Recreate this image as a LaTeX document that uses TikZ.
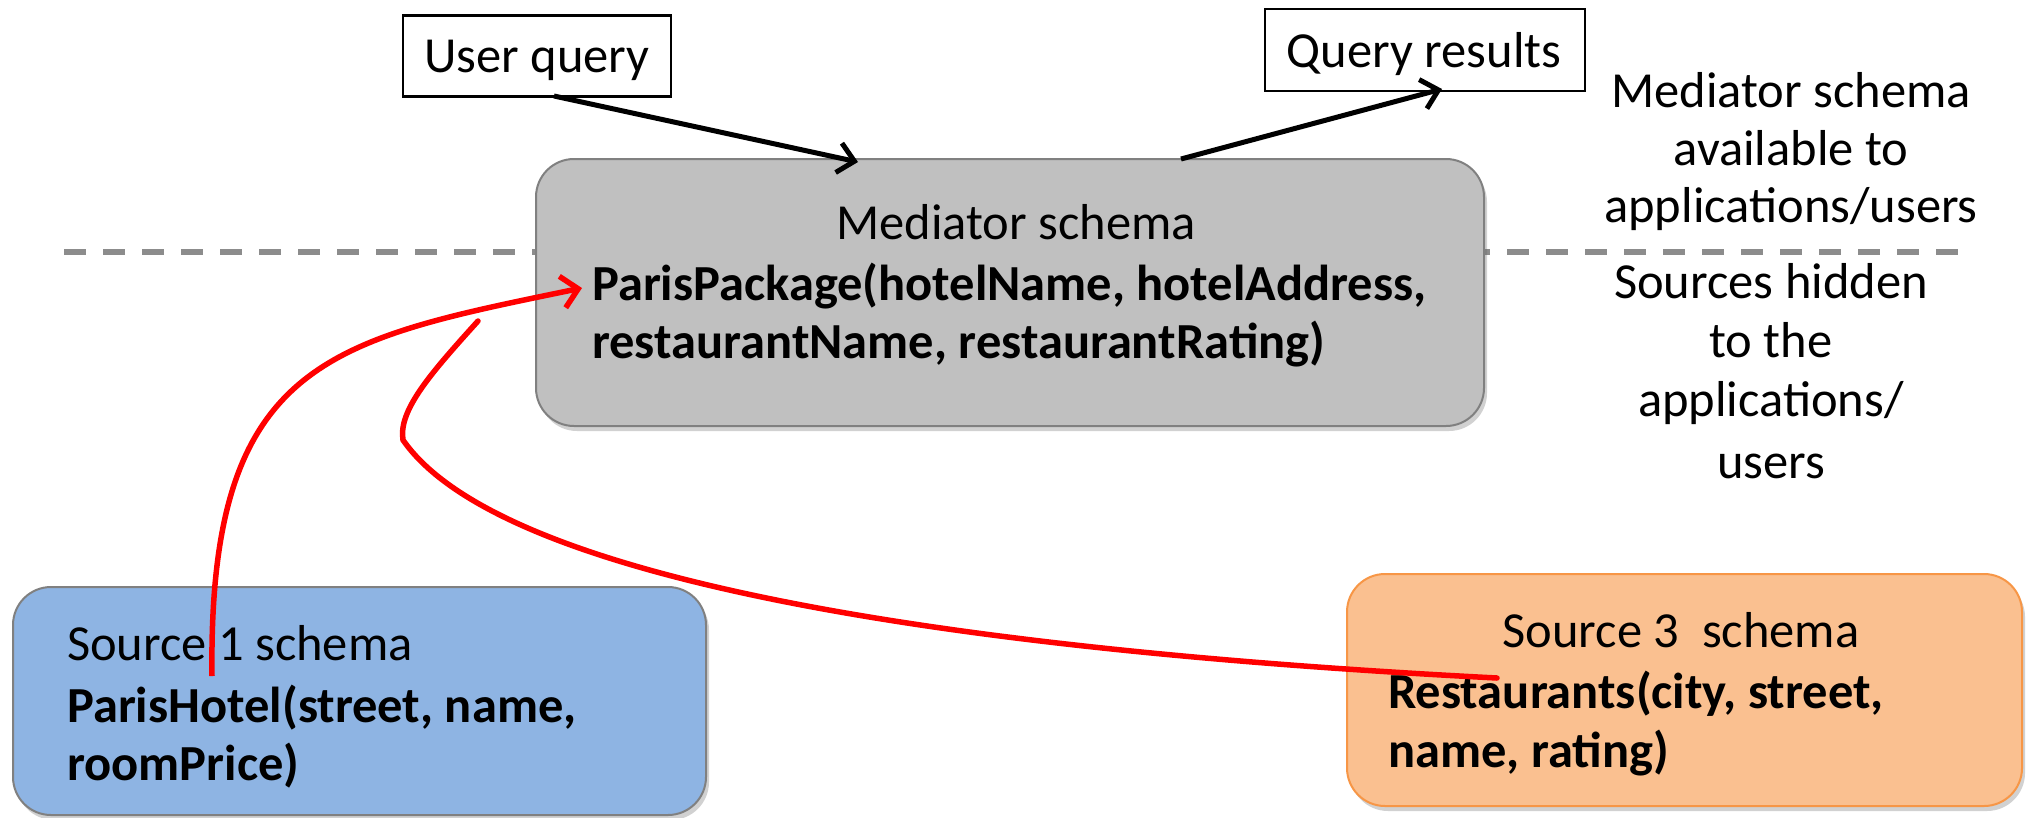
\documentclass[tikz,border=0pt]{standalone}
\usepackage{fontspec}
\setmainfont{Carlito}
\usetikzlibrary{arrows.meta,shadows}
\definecolor{medfill}{HTML}{C0C0C0}
\definecolor{medline}{HTML}{808080}
\definecolor{bluefill}{HTML}{8EB4E3}
\definecolor{orangefill}{HTML}{FAC090}
\definecolor{orangeline}{HTML}{F79646}
\definecolor{dashgray}{HTML}{8C8C8C}
\tikzset{
  schemabox/.style={draw=medline, line width=2pt, rounded corners=38pt, inner sep=0pt,
    drop shadow={shadow xshift=3pt, shadow yshift=-5pt, opacity=0.3, fill=black!60}},
  qbox/.style={draw=black, line width=2.5pt, fill=white, inner sep=0pt},
  txt/.style={inner sep=0pt, font=\fontsize{50.5}{60}\selectfont},
  btxt/.style={inner sep=0pt, font=\fontsize{50.5}{60}\selectfont\bfseries},
  sidetxt/.style={inner sep=0pt, align=center, font=\fontsize{50.5}{60}\selectfont},
  blackarrow/.style={line width=5pt, -{Straight Barb[length=16pt,width=30pt,line width=5pt]}},
  redline/.style={draw=red, line width=5.5pt},
  redarrow/.style={redline, -{Straight Barb[length=16pt,width=32pt,line width=5.5pt]}},
}
\begin{document}
\begin{tikzpicture}[x=1pt,y=-1pt]
\useasboundingbox (0,0) rectangle (2031,817);
% dashed separator
\coordinate (dl) at (64,252);
\coordinate (dr) at (1958,252);
\draw[dashgray, line width=6pt, dash pattern=on 22pt off 17pt] (dl) -- (dr);
% boxes
\node[schemabox, fill=medfill, minimum width=948pt, minimum height=267pt] (med) at (1010,292.5) {};
\node[schemabox, fill=bluefill, minimum width=693pt, minimum height=228pt] (s1) at (359.5,701) {};
\node[schemabox, fill=orangefill, draw=orangeline, minimum width=675pt, minimum height=232pt] (s3) at (1684.5,690) {};
\node[qbox, minimum width=268pt, minimum height=81pt] (uq) at (537,56) {};
\node[qbox, minimum width=320pt, minimum height=82pt] (qr) at (1425,50) {};
% texts
\node[txt, anchor=base] (uqt) at (537,72) {User query};
\node[txt, anchor=base] (qrt) at (1424,67) {Query results};
\node[txt, anchor=base] (medt) at (1016,239) {Mediator schema};
\node[btxt, anchor=base west] (medb1) at (592,300) {ParisPackage(hotelName, hotelAddress,};
\node[btxt, anchor=base west] (medb2) at (592,358) {restaurantName, restaurantRating)};
\node[txt, anchor=base west] (s1t) at (67,660) {Source 1 schema};
\node[btxt, anchor=base west] (s1b1) at (67,722) {ParisHotel(street, name,};
\node[btxt, anchor=base west] (s1b2) at (67,780) {roomPrice)};
\node[txt, anchor=base] (s3t) at (1681,647) {Source 3\ \ schema};
\node[btxt, anchor=base west] (s3b1) at (1388,708) {Restaurants(city, street,};
\node[btxt, anchor=base west] (s3b2) at (1388,767) {name, rating)};
\node[sidetxt, anchor=base] (side1) at (1791,107) {Mediator schema};
\node[sidetxt, anchor=base] (side2) at (1791,165) {available to};
\node[sidetxt, anchor=base] (side3) at (1791,222) {applications/users};
\node[sidetxt, anchor=base] (side4) at (1771,298) {Sources hidden};
\node[sidetxt, anchor=base] (side5) at (1771,357) {to the};
\node[sidetxt, anchor=base] (side6) at (1771,416) {applications/};
\node[sidetxt, anchor=base] (side7) at (1771,478) {users};
% black arrows
\coordinate (uqout) at (554,96);
\coordinate (medin) at (858,162);
\coordinate (medout) at (1181,159);
\coordinate (qrin) at (1442,89);
\draw[blackarrow] (uqout) -- (medin);
\draw[blackarrow] (medout) -- (qrin);
% red curves
\coordinate (h1) at (212,676);
\coordinate (tip) at (582,288);
\coordinate (join) at (478,321);
\coordinate (kink) at (403,440);
\coordinate (r3) at (1497,678);
\draw[redarrow] (h1) .. controls (208,360) and (330,340) .. (tip);
\draw[redline, line cap=round] (r3) .. controls (950,650) and (500,580) .. (kink)
  .. controls (398,410) and (432,372) .. (join);
\end{tikzpicture}
\end{document}
